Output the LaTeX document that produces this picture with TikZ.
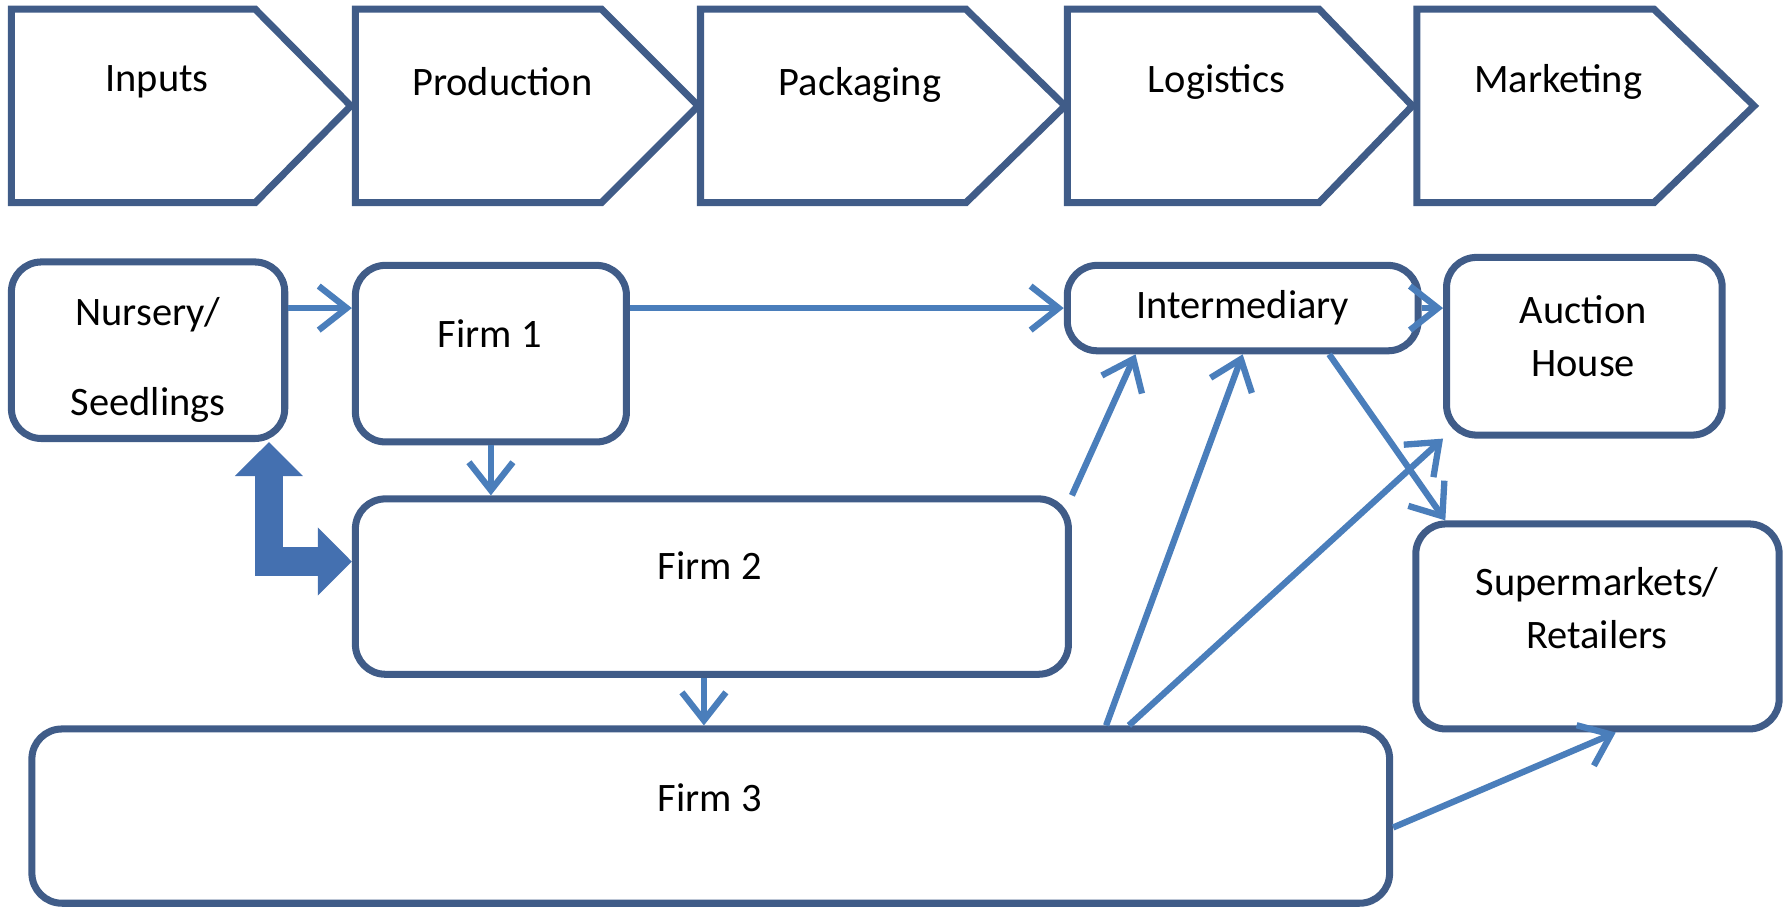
\documentclass[tikz,border=0pt]{standalone}
\usepackage{fontspec}
\setmainfont{Carlito}
\usetikzlibrary{arrows.meta,calc,fit}

\definecolor{boxline}{RGB}{64,92,136}
\definecolor{flow}{RGB}{74,126,187}
\definecolor{bigflow}{RGB}{68,112,176}

\begin{document}
\begin{tikzpicture}[x=1.139cm,y=1.139cm,
	box/.style={draw=boxline, line width=2pt, rounded corners=0.3cm, inner sep=0pt, fill=white},
	stage/.style={draw=boxline, line width=2pt, fill=white},
	lbl/.style={font=\fontsize{11.5}{15}\selectfont, align=center, inner sep=0pt},
	flowarrow/.style={draw=flow, line width=1.8pt, -{Straight Barb[length=2.8mm,width=4.4mm]}},
	bigarrow/.style={draw=bigflow, line width=8pt, {Triangle[length=3.4mm,width=6.6mm]}-{Triangle[length=3.4mm,width=6.6mm]}}]

	\useasboundingbox (0,0) rectangle (15.68,7.96);

	% value chain stages
	\draw[stage] (0.10,7.88) -- (2.24,7.88) -- (3.08,7.03) -- (2.24,6.18) -- (0.10,6.18) -- cycle;
	\draw[stage] (3.12,7.88) -- (5.28,7.88) -- (6.13,7.03) -- (5.28,6.18) -- (3.12,6.18) -- cycle;
	\draw[stage] (6.15,7.88) -- (8.48,7.88) -- (9.35,7.03) -- (8.48,6.18) -- (6.15,6.18) -- cycle;
	\draw[stage] (9.37,7.88) -- (11.58,7.88) -- (12.40,7.03) -- (11.58,6.18) -- (9.37,6.18) -- cycle;
	\draw[stage] (12.44,7.88) -- (14.52,7.88) -- (15.40,7.03) -- (14.52,6.18) -- (12.44,6.18) -- cycle;

	\node[lbl] (inputs) at (1.38,7.24) {Inputs};
	\node[lbl] (production) at (4.41,7.24) {Production};
	\node[lbl] (packaging) at (7.55,7.21) {Packaging};
	\node[lbl] (logistics) at (10.68,7.24) {Logistics};
	\node[lbl] (marketing) at (13.68,7.24) {Marketing};

	% actors
	\node[box, fit={(0.10,5.66) (2.50,4.11)}] (nursery) {};
	\node[box, fit={(3.12,5.63) (5.50,4.08)}] (firm1) {};
	\node[box, fit={(3.12,3.58) (9.38,2.04)}] (firm2) {};
	\node[box, fit={(0.28,1.56) (12.20,0.03)}] (firm3) {};
	\node[box, fit={(9.37,5.63) (12.45,4.88)}] (inter) {};
	\node[box, fit={(12.70,5.70) (15.12,4.14)}] (auction) {};
	\node[box, fit={(12.43,3.36) (15.62,1.56)}] (retail) {};

	\node[lbl] (nursery-t) at (1.30,4.80) {Nursery/\\[10.5pt]Seedlings};
	\node[lbl] (firm1-t) at (4.30,5.03) {Firm 1};
	\node[lbl] (firm2-t) at (6.23,2.99) {Firm 2};
	\node[lbl] (firm3-t) at (6.23,0.96) {Firm 3};
	\node[lbl] (inter-t) at (inter) {Intermediary};
	\node[lbl] (auction-t) at (13.90,5.01) {Auction\\House};
	\node[lbl] (retail-t) at (14.02,2.62) {Supermarkets/\\Retailers};

	% flows
	\draw[flowarrow] (nursery.east |- inter.west) -- (firm1.west |- inter.west);
	\draw[flowarrow] (firm1.east |- inter.west) -- (inter.west);
	\draw[flowarrow] (firm1.south) -- (firm1.south |- firm2.north);
	\draw[flowarrow] ($(firm2.south)+(-0.07,0)$) -- ($(firm2.south |- firm3.north)+(-0.07,0)$);
	\draw[flowarrow] (firm2.north east) -- ($(inter.south west)+(0.63,0)$);
	\draw[flowarrow] ($(firm3.north east)+(-2.52,0)$) -- (inter.south);
	\draw[flowarrow] ($(firm3.north east)+(-2.32,0)$) -- (auction.south west);
	\draw[flowarrow] ($(inter.south west)+(2.33,0)$) -- ($(retail.north west)+(0.29,0)$);
	\draw[flowarrow] (inter.east) -- (auction.west |- inter.east);
	\draw[flowarrow] ($(firm3.east)+(0,-0.10)$) -- ($(retail.south)+(0.16,0)$);
	\draw[bigarrow] ($(nursery.south east)+(-0.17,0)$) |- ($(firm2.west)+(0,0.22)$);

\end{tikzpicture}
\end{document}
